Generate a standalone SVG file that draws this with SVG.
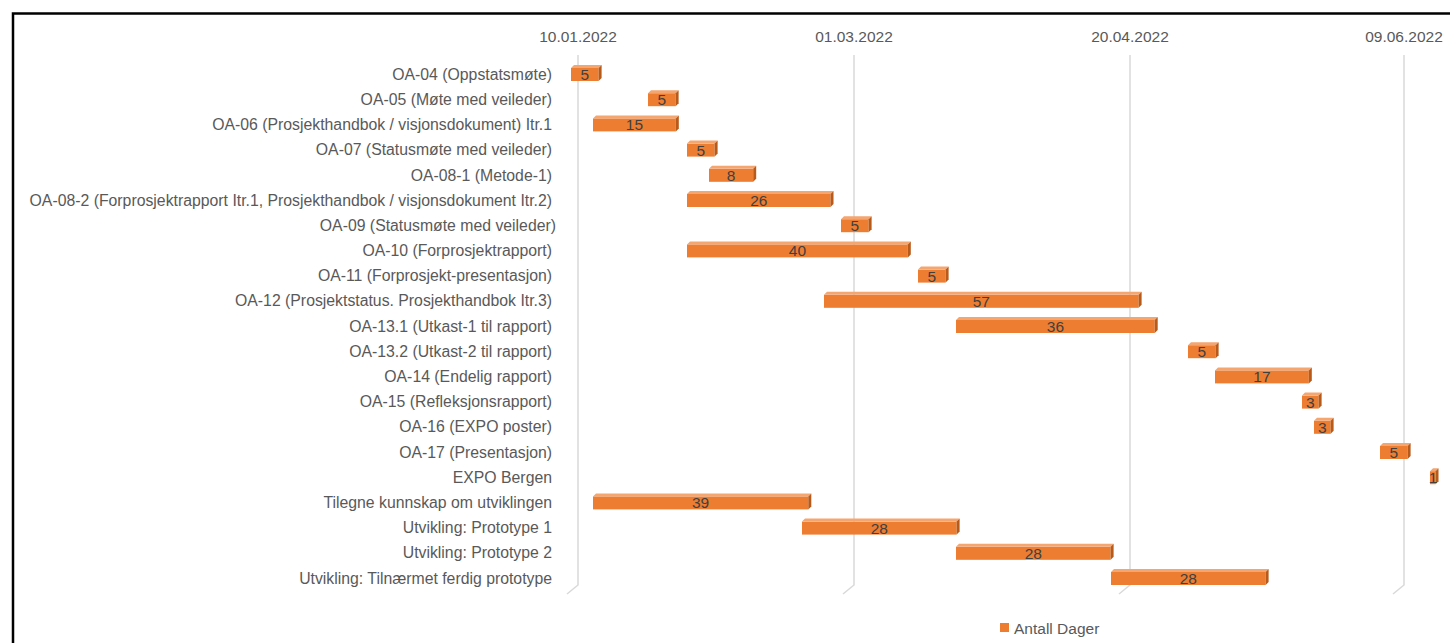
<svg xmlns="http://www.w3.org/2000/svg" width="1450" height="643" viewBox="0 0 1450 643">
<style>
.lbl{font-family:"Liberation Sans",Arial,sans-serif;font-size:15.8px;fill:#595959;text-anchor:end}
.ax{font-family:"Liberation Sans",Arial,sans-serif;font-size:15.5px;fill:#595959;text-anchor:middle}
.val{font-family:"Liberation Sans",Arial,sans-serif;font-size:15.5px;fill:#404040;text-anchor:middle}
.grid{fill:none;stroke:#D9D9D9;stroke-width:1.5}
.front{fill:#ED7D31}
.top{fill:#F4A570}
.side{fill:#B85A1A}
</style>
<rect x="0" y="0" width="1450" height="643" fill="#FFFFFF"/>
<path d="M13,643 V13.5 H1450" fill="none" stroke="#000" stroke-width="2.5"/>
<g id="axis">
<text class="ax" x="578" y="42">10.01.2022</text>
<text class="ax" x="854" y="42">01.03.2022</text>
<text class="ax" x="1130" y="42">20.04.2022</text>
<text class="ax" x="1404" y="42">09.06.2022</text>
</g>
<g id="gridlines">
<path class="grid" d="M578,55 V585 L567,594"/>
<path class="grid" d="M854,55 V585 L843,594"/>
<path class="grid" d="M1130,55 V585 L1119,594"/>
<path class="grid" d="M1404,55 V585 L1393,594"/>
</g>
<g id="labels">
<text class="lbl" x="552" y="80">OA-04 (Oppstatsmøte)</text>
<text class="lbl" x="552" y="105">OA-05 (Møte med veileder)</text>
<text class="lbl" x="552" y="130">OA-06 (Prosjekthandbok / visjonsdokument) Itr.1</text>
<text class="lbl" x="552" y="155">OA-07 (Statusmøte med veileder)</text>
<text class="lbl" x="552" y="181">OA-08-1 (Metode-1)</text>
<text class="lbl" x="552" y="206">OA-08-2 (Forprosjektrapport Itr.1, Prosjekthandbok / visjonsdokument Itr.2)</text>
<text class="lbl" x="556" y="231">OA-09 (Statusmøte med veileder)</text>
<text class="lbl" x="552" y="256">OA-10 (Forprosjektrapport)</text>
<text class="lbl" x="552" y="281">OA-11 (Forprosjekt-presentasjon)</text>
<text class="lbl" x="552" y="306">OA-12 (Prosjektstatus. Prosjekthandbok Itr.3)</text>
<text class="lbl" x="552" y="332">OA-13.1 (Utkast-1 til rapport)</text>
<text class="lbl" x="552" y="357">OA-13.2 (Utkast-2 til rapport)</text>
<text class="lbl" x="552" y="382">OA-14 (Endelig rapport)</text>
<text class="lbl" x="552" y="407">OA-15 (Refleksjonsrapport)</text>
<text class="lbl" x="552" y="432">OA-16 (EXPO poster)</text>
<text class="lbl" x="552" y="458">OA-17 (Presentasjon)</text>
<text class="lbl" x="552" y="483">EXPO Bergen</text>
<text class="lbl" x="552" y="508">Tilegne kunnskap om utviklingen</text>
<text class="lbl" x="552" y="533">Utvikling: Prototype 1</text>
<text class="lbl" x="552" y="558">Utvikling: Prototype 2</text>
<text class="lbl" x="552" y="584">Utvikling: Tilnærmet ferdig prototype</text>
</g>
<g id="bar-oa04" transform="translate(571,74)">
<rect class="front" x="0" y="-6" width="27.6" height="13"/><path class="top" d="M0,-6 L3,-9 H30.6 L27.6,-6 Z"/><path class="side" d="M27.6,-6 L30.6,-9 V4 L27.6,7 Z"/><text class="val" x="13.8" y="6">5</text>
</g>
<g id="bar-oa05" transform="translate(648,99.2)">
<rect class="front" x="0" y="-6" width="27.6" height="13"/><path class="top" d="M0,-6 L3,-9 H30.6 L27.6,-6 Z"/><path class="side" d="M27.6,-6 L30.6,-9 V4 L27.6,7 Z"/><text class="val" x="13.8" y="6">5</text>
</g>
<g id="bar-oa06" transform="translate(593,124.4)">
<rect class="front" x="0" y="-6" width="82.8" height="13"/><path class="top" d="M0,-6 L3,-9 H85.8 L82.8,-6 Z"/><path class="side" d="M82.8,-6 L85.8,-9 V4 L82.8,7 Z"/><text class="val" x="41.4" y="6">15</text>
</g>
<g id="bar-oa07" transform="translate(687,149.6)">
<rect class="front" x="0" y="-6" width="27.6" height="13"/><path class="top" d="M0,-6 L3,-9 H30.6 L27.6,-6 Z"/><path class="side" d="M27.6,-6 L30.6,-9 V4 L27.6,7 Z"/><text class="val" x="13.8" y="6">5</text>
</g>
<g id="bar-oa081" transform="translate(709,174.8)">
<rect class="front" x="0" y="-6" width="44.2" height="13"/><path class="top" d="M0,-6 L3,-9 H47.2 L44.2,-6 Z"/><path class="side" d="M44.2,-6 L47.2,-9 V4 L44.2,7 Z"/><text class="val" x="22.1" y="6">8</text>
</g>
<g id="bar-oa082" transform="translate(687,200)">
<rect class="front" x="0" y="-6" width="143.5" height="13"/><path class="top" d="M0,-6 L3,-9 H146.5 L143.5,-6 Z"/><path class="side" d="M143.5,-6 L146.5,-9 V4 L143.5,7 Z"/><text class="val" x="71.8" y="6">26</text>
</g>
<g id="bar-oa09" transform="translate(841,225.2)">
<rect class="front" x="0" y="-6" width="27.6" height="13"/><path class="top" d="M0,-6 L3,-9 H30.6 L27.6,-6 Z"/><path class="side" d="M27.6,-6 L30.6,-9 V4 L27.6,7 Z"/><text class="val" x="13.8" y="6">5</text>
</g>
<g id="bar-oa10" transform="translate(687,250.4)">
<rect class="front" x="0" y="-6" width="220.8" height="13"/><path class="top" d="M0,-6 L3,-9 H223.8 L220.8,-6 Z"/><path class="side" d="M220.8,-6 L223.8,-9 V4 L220.8,7 Z"/><text class="val" x="110.4" y="6">40</text>
</g>
<g id="bar-oa11" transform="translate(918,275.6)">
<rect class="front" x="0" y="-6" width="27.6" height="13"/><path class="top" d="M0,-6 L3,-9 H30.6 L27.6,-6 Z"/><path class="side" d="M27.6,-6 L30.6,-9 V4 L27.6,7 Z"/><text class="val" x="13.8" y="6">5</text>
</g>
<g id="bar-oa12" transform="translate(824,300.8)">
<rect class="front" x="0" y="-6" width="314.6" height="13"/><path class="top" d="M0,-6 L3,-9 H317.6 L314.6,-6 Z"/><path class="side" d="M314.6,-6 L317.6,-9 V4 L314.6,7 Z"/><text class="val" x="157.3" y="6">57</text>
</g>
<g id="bar-oa131" transform="translate(956,326)">
<rect class="front" x="0" y="-6" width="198.7" height="13"/><path class="top" d="M0,-6 L3,-9 H201.7 L198.7,-6 Z"/><path class="side" d="M198.7,-6 L201.7,-9 V4 L198.7,7 Z"/><text class="val" x="99.4" y="6">36</text>
</g>
<g id="bar-oa132" transform="translate(1188,351.2)">
<rect class="front" x="0" y="-6" width="27.6" height="13"/><path class="top" d="M0,-6 L3,-9 H30.6 L27.6,-6 Z"/><path class="side" d="M27.6,-6 L30.6,-9 V4 L27.6,7 Z"/><text class="val" x="13.8" y="6">5</text>
</g>
<g id="bar-oa14" transform="translate(1215,376.4)">
<rect class="front" x="0" y="-6" width="93.8" height="13"/><path class="top" d="M0,-6 L3,-9 H96.8 L93.8,-6 Z"/><path class="side" d="M93.8,-6 L96.8,-9 V4 L93.8,7 Z"/><text class="val" x="46.9" y="6">17</text>
</g>
<g id="bar-oa15" transform="translate(1302,401.6)">
<rect class="front" x="0" y="-6" width="16.6" height="13"/><path class="top" d="M0,-6 L3,-9 H19.6 L16.6,-6 Z"/><path class="side" d="M16.6,-6 L19.6,-9 V4 L16.6,7 Z"/><text class="val" x="8.3" y="6">3</text>
</g>
<g id="bar-oa16" transform="translate(1314,426.8)">
<rect class="front" x="0" y="-6" width="16.6" height="13"/><path class="top" d="M0,-6 L3,-9 H19.6 L16.6,-6 Z"/><path class="side" d="M16.6,-6 L19.6,-9 V4 L16.6,7 Z"/><text class="val" x="8.3" y="6">3</text>
</g>
<g id="bar-oa17" transform="translate(1380,452)">
<rect class="front" x="0" y="-6" width="27.6" height="13"/><path class="top" d="M0,-6 L3,-9 H30.6 L27.6,-6 Z"/><path class="side" d="M27.6,-6 L30.6,-9 V4 L27.6,7 Z"/><text class="val" x="13.8" y="6">5</text>
</g>
<g id="bar-expo" transform="translate(1430,477.2)">
<rect class="front" x="0" y="-6" width="5.5" height="13"/><path class="top" d="M0,-6 L3,-9 H8.5 L5.5,-6 Z"/><path class="side" d="M5.5,-6 L8.5,-9 V4 L5.5,7 Z"/><text class="val" x="3" y="6">1</text>
</g>
<g id="bar-tilegne" transform="translate(593,502.4)">
<rect class="front" x="0" y="-6" width="215.3" height="13"/><path class="top" d="M0,-6 L3,-9 H218.3 L215.3,-6 Z"/><path class="side" d="M215.3,-6 L218.3,-9 V4 L215.3,7 Z"/><text class="val" x="107.6" y="6">39</text>
</g>
<g id="bar-proto1" transform="translate(802,527.6)">
<rect class="front" x="0" y="-6" width="154.6" height="13"/><path class="top" d="M0,-6 L3,-9 H157.6 L154.6,-6 Z"/><path class="side" d="M154.6,-6 L157.6,-9 V4 L154.6,7 Z"/><text class="val" x="77.3" y="6">28</text>
</g>
<g id="bar-proto2" transform="translate(956,552.8)">
<rect class="front" x="0" y="-6" width="154.6" height="13"/><path class="top" d="M0,-6 L3,-9 H157.6 L154.6,-6 Z"/><path class="side" d="M154.6,-6 L157.6,-9 V4 L154.6,7 Z"/><text class="val" x="77.3" y="6">28</text>
</g>
<g id="bar-tilnaermet" transform="translate(1111,578)">
<rect class="front" x="0" y="-6" width="154.6" height="13"/><path class="top" d="M0,-6 L3,-9 H157.6 L154.6,-6 Z"/><path class="side" d="M154.6,-6 L157.6,-9 V4 L154.6,7 Z"/><text class="val" x="77.3" y="6">28</text>
</g>
<g id="legend">
<rect x="1000" y="623" width="9" height="9" fill="#ED7D31"/>
<text x="1014" y="634" style="font-family:'Liberation Sans',Arial,sans-serif;font-size:15.5px;fill:#595959">Antall Dager</text>
</g>
</svg>
